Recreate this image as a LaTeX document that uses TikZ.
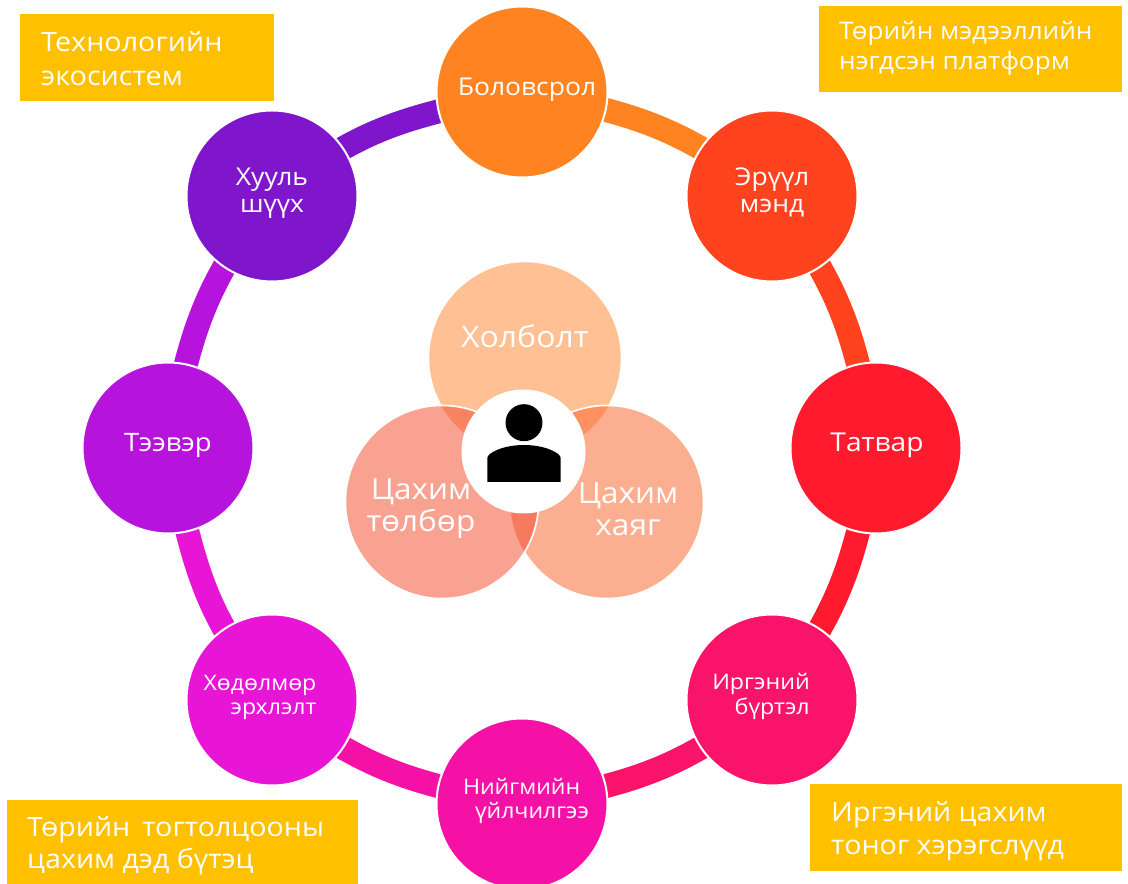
\documentclass[tikz,border=0pt]{standalone}
\usepackage{fontspec}
\setmainfont[FakeStretch=1.08]{Open Sans}
\pgfdeclarelayer{bg}
\pgfsetlayers{bg,main}
\definecolor{cA}{HTML}{FF8320}
\definecolor{cB}{HTML}{FF431E}
\definecolor{cC}{HTML}{FF1A2E}
\definecolor{cD}{HTML}{F9136A}
\definecolor{cE}{HTML}{F511A5}
\definecolor{cF}{HTML}{E814D6}
\definecolor{cG}{HTML}{B614DC}
\definecolor{cH}{HTML}{7F16CB}
\definecolor{ybox}{HTML}{FFC000}
\definecolor{vTop}{HTML}{FFC093}
\definecolor{vLeft}{HTML}{F9A292}
\definecolor{vRight}{HTML}{FCAF90}
\definecolor{vTL}{HTML}{F98360}
\definecolor{vTR}{HTML}{FF9160}
\definecolor{vLR}{HTML}{F57A5E}
\tikzset{
  hub/.style={circle,draw=white,line width=2pt,minimum size=171pt,inner sep=0pt,outer sep=0pt},
  venn/.style={circle,draw=white,line width=1.5pt,minimum size=193pt,inner sep=0pt,outer sep=0pt},
  lab/.style={text=white,inner sep=0pt,align=left},
  ring/.style={line width=24pt,shorten <=-12pt,shorten >=-12pt},
  notebox/.style={fill=ybox,anchor=north west,inner sep=0pt,outer sep=0pt},
  notetext/.style={lab,anchor=west},
}
\begin{document}
\begin{tikzpicture}[x=1pt,y=1pt]
\useasboundingbox (0,0) rectangle (1128,884);
% hubs
\node[hub,fill=cA] (n0) at (522,792) {};
\node[hub,fill=cB] (n1) at (772,688) {};
\node[hub,fill=cC] (n2) at (876,436) {};
\node[hub,fill=cD] (n3) at (772,184) {};
\node[hub,fill=cE] (n4) at (522,80) {};
\node[hub,fill=cF] (n5) at (272,184) {};
\node[hub,fill=cG] (n6) at (168,436) {};
\node[hub,fill=cH] (n7) at (272,688) {};
% ring arcs
\begin{pgfonlayer}{bg}
\foreach \a/\b/\p/\c/\sa/\sb in {n0/n1/0/cA/12.2/11,n1/n2/45/cB/11/12.2,n2/n3/90/cC/12.2/11,n3/n4/135/cD/11/12.2,n4/n5/180/cE/12.2/11,n5/n6/225/cF/11/12.2,n6/n7/270/cG/12.2/11,n7/n0/315/cH/11/12.2}{
  \pgfmathsetmacro{\ts}{-\sa-\p}
  \pgfmathsetmacro{\te}{180+\sb-\p-45}
  \pgfmathsetmacro{\oo}{-\p-13.8}
  \pgfmathsetmacro{\ii}{180-\p-31.2}
  \draw[ring,color=\c] (\a.\ts) to[out=\oo,in=\ii,looseness=.85] (\b.\te);
}
\end{pgfonlayer}
% hub labels
\node[lab,font=\fontsize{24.5}{27}\selectfont] (l0) at (527,794) {Боловсрол};
\node[lab,align=center,font=\fontsize{24.5}{27}\selectfont] (l1) at (772,692) {Эрүүл\\мэнд};
\node[lab,font=\fontsize{26}{27}\selectfont] (l2) at (877,439) {Татвар};
\node[lab,align=right,font=\fontsize{21.5}{25}\selectfont] (l3) at (761,188) {Иргэний\\бүртэл};
\node[lab,font=\fontsize{21.4}{24}\selectfont] (l4) at (526,83) {Нийгмийн\\\hspace*{12pt}үйлчилгээ};
\node[lab,align=right,font=\fontsize{21.4}{24}\selectfont] (l5) at (260,187) {Хөдөлмөр\\эрхлэлт};
\node[lab,font=\fontsize{25.4}{27}\selectfont] (l6) at (168,439) {Тээвэр};
\node[lab,align=center,font=\fontsize{24.5}{27}\selectfont] (l7) at (272,691) {Хууль\\шүүх};
% venn
\node[venn,fill=vTop] (top) at (525,526) {};
\node[venn,fill=vRight] (right) at (607,382) {};
\node[venn,fill=vLeft] (left) at (442,382) {};
\begin{scope}
  \clip (525,526) circle (96.5);
  \path[fill=vTR,draw=white,line width=1.5pt] (607,382) circle (96.5);
  \path[fill=vTL,draw=white,line width=1.5pt] (442,382) circle (96.5);
\end{scope}
\begin{scope}
  \clip (607,382) circle (96.5);
  \path[fill=vLR,draw=white,line width=1.5pt] (442,382) circle (96.5);
\end{scope}
\node[circle,fill=white,minimum size=124pt,inner sep=0pt] (me) at (523.5,432.5) {};
\node[circle,fill=black,minimum size=37pt,inner sep=0pt] (head) at (524,461.3) {};
\path[fill=black] (487.3,402) -- (487.3,426) .. controls (487.3,431) and (503,439) .. (524,439) .. controls (545,439) and (560.7,431) .. (560.7,426) -- (560.7,402) -- cycle;
\node[lab,font=\fontsize{29.6}{32}\selectfont] (v0) at (525,548) {Холболт};
\node[lab,align=center,font=\fontsize{29.2}{32}\selectfont] (v1) at (421,375) {Цахим\\төлбөр};
\node[lab,align=center,font=\fontsize{29.2}{32}\selectfont] (v2) at (628,375) {Цахим\\хаяг};
% notes
\node[notebox,minimum width=254pt,minimum height=87pt] (b0) at (20,870) {};
\node[notetext,font=\fontsize{26.6}{34}\selectfont] (t0) at (41,825) {Технологийн\\экосистем};
\node[notebox,minimum width=303pt,minimum height=86pt] (b1) at (819,878) {};
\node[notetext,font=\fontsize{24.2}{30}\selectfont] (t1) at (839,836) {Төрийн мэдээллийн\\нэгдсэн платформ};
\node[notebox,minimum width=351pt,minimum height=84pt] (b2) at (7,84) {};
\node[notetext,font=\fontsize{26.5}{32}\selectfont] (t2) at (27,38) {Төрийн\, тогтолцооны\\цахим дэд бүтэц};
\node[notebox,minimum width=312pt,minimum height=87pt] (b3) at (810,100) {};
\node[notetext,font=\fontsize{26.5}{33}\selectfont] (t3) at (831,53) {Иргэний цахим\\тоног хэрэгслүүд};
\end{tikzpicture}
\end{document}
